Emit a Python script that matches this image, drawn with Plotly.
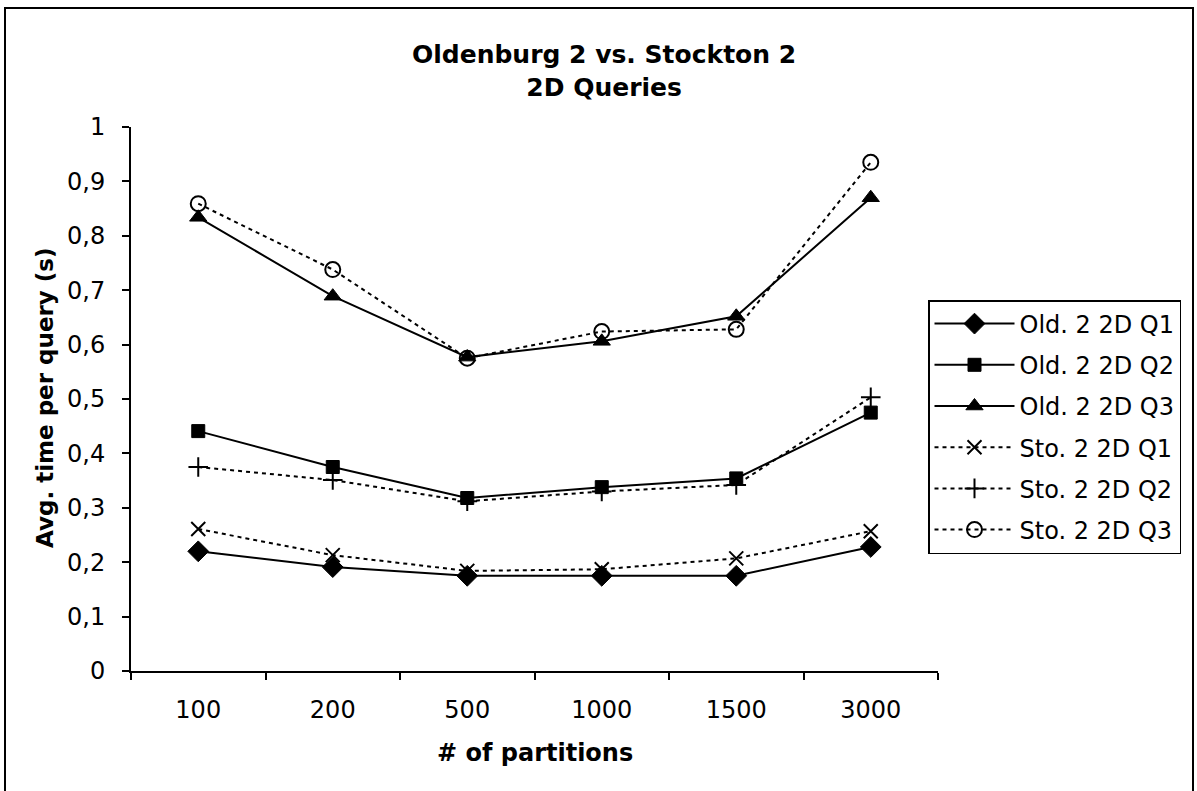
import plotly.graph_objects as go

# Partition counts on the x axis
partitions = ["100", "200", "500", "1000", "1500", "3000"]

# Average time per query (s)
old_q1 = [0.220, 0.191, 0.175, 0.175, 0.175, 0.228]
old_q2 = [0.441, 0.375, 0.318, 0.338, 0.354, 0.475]
old_q3 = [0.834, 0.689, 0.577, 0.606, 0.652, 0.870]
sto_q1 = [0.261, 0.213, 0.184, 0.187, 0.207, 0.257]
sto_q2 = [0.375, 0.351, 0.312, 0.330, 0.342, 0.503]
sto_q3 = [0.859, 0.738, 0.575, 0.624, 0.628, 0.935]

W, H = 1197, 791
L, R, T, B = 131, 938, 127, 671  # plot area edges in page pixels
FONT = "DejaVu Sans, Arial, sans-serif"


def px(x):
    return (x - L) / (R - L)


def py(y):
    return (B - y) / (B - T)


series = [
    ("Old. 2 2D Q1", old_q1, "solid", "diamond", 16, 1),
    ("Old. 2 2D Q2", old_q2, "solid", "square", 13, 1),
    ("Old. 2 2D Q3", old_q3, "solid", "triangle-up", 15, 1),
    ("Sto. 2 2D Q1", sto_q1, "4px,4px", "x-thin-open", 14, 2),
    ("Sto. 2 2D Q2", sto_q2, "4px,4px", "cross-thin-open", 14, 2),
    ("Sto. 2 2D Q3", sto_q3, "4px,4px", "circle-open", 15, 2),
]

fig = go.Figure()
for i, (name, vals, dash, sym, size, lw) in enumerate(series):
    fig.add_trace(go.Scatter(
        x=partitions, y=vals, name=name, mode="lines+markers",
        legendgroup=f"g{i}",
        line=dict(color="black", width=2, dash=dash),
        marker=dict(symbol=sym, size=size, color="black",
                    line=dict(color="black", width=lw)),
    ))

fig.update_layout(
    width=W, height=H,
    margin=dict(l=L, r=W - R, t=T, b=H - B, pad=0),
    paper_bgcolor="white", plot_bgcolor="white",
    font=dict(family=FONT, size=24, color="black"),
    separators=", ",
    showlegend=True,
    legend=dict(
        x=px(928), y=py(300), xanchor="left", yanchor="top",
        bordercolor="black", borderwidth=1.5, bgcolor="white",
        font=dict(family=FONT, size=24, color="black"),
        traceorder="grouped", tracegroupgap=7, itemwidth=80,
    ),
    xaxis=dict(
        type="category", range=[-0.5, 5.5], tickson="boundaries",
        showline=True, linecolor="black", linewidth=2,
        ticks="outside", ticklen=7, tickwidth=2, tickcolor="black",
        showgrid=False, zeroline=False, ticklabelstandoff=16,
        tickfont=dict(family=FONT, size=24),
    ),
    yaxis=dict(
        range=[0, 1], dtick=0.1, tick0=0,
        showline=True, linecolor="black", linewidth=2,
        ticks="outside", ticklen=7, tickwidth=2, tickcolor="black",
        showgrid=False, zeroline=False, ticklabelstandoff=12,
        tickfont=dict(family=FONT, size=24),
    ),
    annotations=[
        dict(text="<b>Oldenburg 2 vs. Stockton 2</b><br><b>2D Queries</b>",
             x=px(604), y=py(71), xref="paper", yref="paper",
             xanchor="center", yanchor="middle", showarrow=False,
             font=dict(family=FONT, size=25, color="black")),
        dict(text="<b># of partitions</b>",
             x=px(535), y=py(753), xref="paper", yref="paper",
             xanchor="center", yanchor="middle", showarrow=False,
             font=dict(family=FONT, size=24, color="black")),
        dict(text="<b>Avg. time per query (s)</b>", textangle=-90,
             x=px(45), y=py(398), xref="paper", yref="paper",
             xanchor="center", yanchor="middle", showarrow=False,
             font=dict(family=FONT, size=23, color="black")),
    ],
    shapes=[
        dict(type="rect", xref="paper", yref="paper",
             x0=px(5), x1=px(1193), y0=py(8), y1=py(800),
             line=dict(color="black", width=2), fillcolor="rgba(0,0,0,0)",
             layer="below"),
    ],
)

fig.write_html("out.html")
